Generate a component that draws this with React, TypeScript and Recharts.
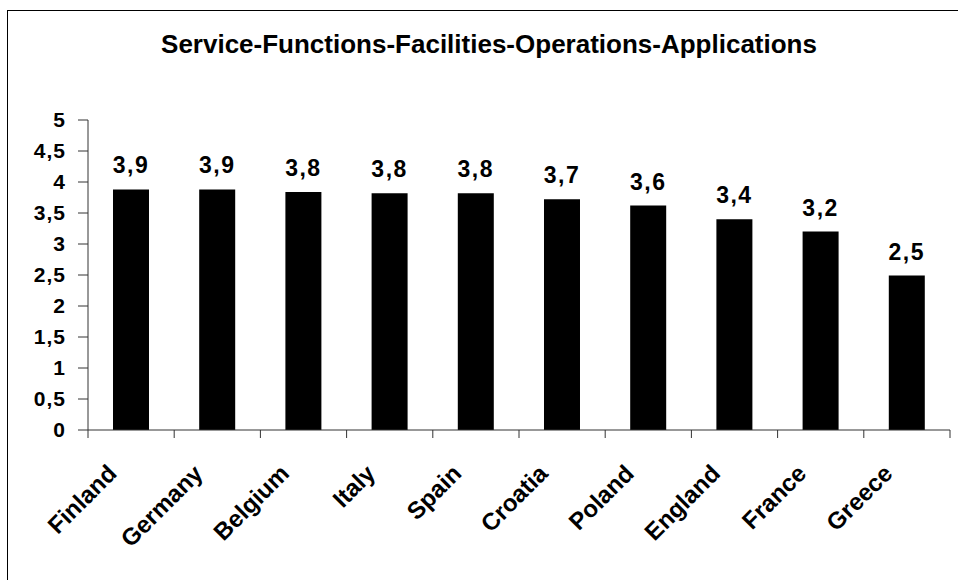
import React from 'react';
import { BarChart, Bar, XAxis, YAxis, LabelList } from 'recharts';

const countries = ['Finland', 'Germany', 'Belgium', 'Italy', 'Spain', 'Croatia', 'Poland', 'England', 'France', 'Greece'];
const scores = [3.88, 3.88, 3.84, 3.82, 3.82, 3.72, 3.62, 3.4, 3.2, 2.49];
const yTicks = [0, 0.5, 1, 1.5, 2, 2.5, 3, 3.5, 4, 4.5, 5];
const title = 'Service-Functions-Facilities-Operations-Applications';

const data = countries.map((country, i) => ({ country, score: scores[i] }));

const FONT = '"Liberation Sans", Arial, sans-serif';
const comma = (v: number, digits?: number) =>
  (digits !== undefined ? Number(v).toFixed(digits) : String(v)).replace('.', ',');

// category label rotated -45deg plus tick marks on the band edges
const CountryTick = (props: any) => {
  const { x, y, payload, index, visibleTicksCount } = props;
  const half = payload.offset || 0;
  const last = index === visibleTicksCount - 1;
  const ax = x - 13;
  const ay = y + 45;
  return (
    <g>
      <line x1={x - half} x2={x - half} y1={y} y2={y + 8} stroke="#333" />
      {last && <line x1={x + half} x2={x + half} y1={y} y2={y + 8} stroke="#333" />}
      <text
        x={ax}
        y={ay}
        transform={`rotate(-45, ${ax}, ${ay})`}
        textAnchor="end"
        fontFamily={FONT}
        fontWeight="bold"
        fontSize={24}
        fill="#000"
      >
        {payload.value}
      </text>
    </g>
  );
};

export default function App() {
  return (
    <div style={{ position: 'absolute', left: 0, top: 0, width: 958, height: 580, overflow: 'hidden', background: '#fff', fontFamily: FONT }}>
      <div style={{ position: 'absolute', left: 7, top: 10, width: 980, height: 600, borderTop: '1px solid #000', borderLeft: '1px solid #000' }} />
      <div
        style={{
          position: 'absolute', left: 8, top: 32, width: 962, textAlign: 'center',
          fontSize: 26, lineHeight: '25px', fontWeight: 'bold', color: '#000',
        }}
      >
        {title}
      </div>
      <BarChart
        width={958}
        height={580}
        data={data}
        margin={{ top: 120, right: 8, left: 8, bottom: 50 }}
        barCategoryGap="29%"
        style={{ position: 'absolute', left: 0, top: 0 }}
      >
        <XAxis xAxisId="top" orientation="top" dataKey="country" height={0} tick={false} tickLine={false} axisLine={{ stroke: '#808080' }} />
        <YAxis yAxisId="right" orientation="right" width={0} tick={false} tickLine={false} axisLine={{ stroke: '#808080' }} domain={[0, 5]} />
        <XAxis
          dataKey="country"
          height={100}
          interval={0}
          tickSize={0}
          tickMargin={0}
          tickLine={false}
          axisLine={{ stroke: '#333' }}
          tick={<CountryTick />}
        />
        <YAxis
          width={80}
          domain={[0, 5]}
          ticks={yTicks}
          interval={0}
          tickSize={10}
          tickMargin={12}
          axisLine={{ stroke: '#333' }}
          tickLine={{ stroke: '#333' }}
          tick={{ fill: '#000', fontSize: 21, fontWeight: 'bold', fontFamily: FONT, letterSpacing: 1 }}
          tickFormatter={(v: number) => comma(v)}
        />
        <Bar dataKey="score" fill="#000" isAnimationActive={false}>
          <LabelList
            dataKey="score"
            position="top"
            offset={16}
            formatter={(v: any) => comma(v, 1)}
            style={{ fill: '#000', fontSize: 23, fontWeight: 'bold', fontFamily: FONT, letterSpacing: 1.5 }}
          />
        </Bar>
      </BarChart>
    </div>
  );
}
